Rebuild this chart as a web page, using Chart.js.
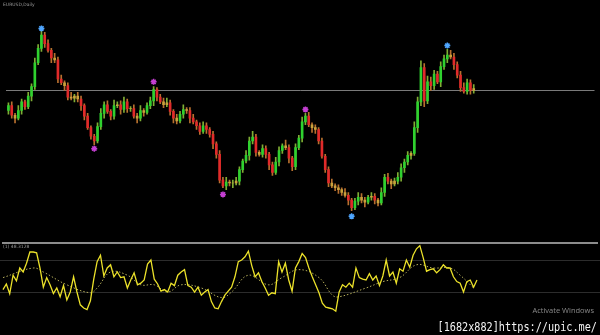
<!DOCTYPE html>
<html>
<head>
<meta charset="utf-8">
<script src="https://cdn.jsdelivr.net/npm/chart.js@4/dist/chart.umd.min.js"></script>
<style>
  html, body { margin:0; padding:0; background:#000; width:600px; height:335px; overflow:hidden; }
  #wrap { position:relative; width:600px; height:335px; background:#000; }
  #main { position:absolute; left:0; top:0; }
  #osc { position:absolute; left:0; top:236px; }
  #sep { position:absolute; left:2px; top:242px; width:596px; height:2px; background:#8c8c8c; z-index:3; }
  .lbl { position:absolute; color:#9a9a9a; font-family:"DejaVu Sans", sans-serif; font-size:4.5px; z-index:4; white-space:nowrap; }
  #act { position:absolute; right:6px; top:305px; color:#8a8a8a; font-family:"Open Sans", sans-serif; font-size:7.5px; z-index:4; }
  #wm { position:absolute; right:3px; top:318px; color:#f4f4f4; font-family:"DejaVu Sans Mono", monospace; font-size:10.2px; line-height:15px; z-index:4; transform:scaleY(1.15); transform-origin:right top; }
</style>
</head>
<body>
<div id="wrap">
  <canvas id="main" width="600" height="240"></canvas>
  <canvas id="osc" width="600" height="80"></canvas>
  <div id="sep"></div>
  <div class="lbl" style="left:3px; top:2px;">EURUSD,Daily</div>
  <div class="lbl" style="left:3px; top:244px;">(1) 48.3128</div>
  <div id="act">Activate Windows</div>
  <div id="wm">[1682x882]https://upic.me/</div>
</div>
<script>
// ---- data ----
const firstOpen = 140;
const closes = [145,135,132,140,149,144,155,165,190,205,219,210,203,195,193,173,169,166,154,153,
  155,152,145,134,122,113,108,123,137,146,139,134,145,146,141,149,142,142,134,132,
  140,138,145,150,162,154,149,146,148,139,132,129,136,141,140,132,128,124,118,124,
  120,115,105,94,67,61,65,64,64,66,78,87,93,108,112,96,94,100,94,83,
  75,86,98,103,101,90,81,101,111,128,134,125,122,120,108,92,78,64,61,59,
  57,54,51,46,38,45,49,46,44,49,50,46,43,54,70,66,63,66,70,80,
  86,93,95,122,149,185,150,170,166,178,170,186,194,198,196,188,177,164,160,169,
  161,163];
const wickHi = [3,4,2,5,3,2,4,3,5,4,6,3,4,2,5,3,4,2,3,5,
  2,4,3,2,3,2,2,4,5,3,4,2,6,3,4,5,3,2,4,3,
  5,2,3,4,3,2,3,4,5,3,2,4,3,5,2,3,4,2,3,4,
  3,2,3,2,4,3,5,2,3,4,3,2,5,4,6,3,2,4,3,2,
  3,5,4,2,6,3,2,4,3,5,3,4,2,3,2,3,2,3,4,2,
  3,2,4,3,2,3,5,4,3,2,4,3,2,5,3,4,2,3,5,4,
  3,4,2,6,5,7,4,6,5,4,3,5,4,6,5,4,3,4,5,4,
  3,4];
const wickLo = [4,3,5,2,4,3,2,5,3,2,3,4,2,5,3,4,2,5,3,2,
  4,3,5,4,2,3,4,2,3,5,2,4,3,2,5,3,4,3,2,5,
  3,4,2,3,5,4,2,3,2,4,5,3,2,4,3,5,2,4,3,2,
  4,3,5,4,3,2,4,3,5,2,4,3,2,5,3,4,2,3,4,5,
  3,2,4,3,2,5,4,3,2,4,3,2,5,4,3,2,3,4,2,3,
  4,3,2,5,3,2,4,3,5,2,3,4,3,2,4,3,5,2,3,4,
  5,3,4,2,5,4,6,3,5,4,2,5,3,4,2,5,3,4,2,3,
  4,3];
const levelLine = 161;
const upperMarkIdx = [10, 133];
const upperMarkVal = [226, 208];
const lowerBlueIdx = [104];
const lowerBlueVal = [29];
const magentaIdx = [26, 44, 65, 90];
const magentaVal = [100, 170, 52, 141];

const osc = [33,40,28,51,44,60,55,66,80,80,79,60,36,48,39,28,35,24,38,20,
  30,49,30,14,10,8,19,46,68,76,50,60,64,49,55,48,49,35,45,54,
  39,41,45,65,70,46,40,31,33,30,41,38,51,55,58,38,36,30,36,26,
  30,33,18,10,9,18,26,31,36,49,68,70,74,81,63,49,54,43,35,26,
  29,28,68,55,66,45,31,60,68,78,73,60,49,39,29,16,11,10,9,6,
  30,39,36,41,36,60,48,46,45,53,45,50,38,50,70,50,55,41,59,56,
  70,61,76,84,88,73,56,58,59,54,58,64,60,60,49,43,41,30,43,45,
  36,45];
const signalIdx = [0,9,12,19,26,28,32,37,41,45,49,53,59,65,68,73,79,83,88,94,98,100,108,113,118,123,128,133,136,140];
const signalVal = [48,60,55,39,29,35,55,51,39,39,30,39,35,23,30,51,39,48,58,48,26,24,35,43,48,64,60,60,51,35];
const oscLevels = [30, 70];

// ---- build datasets ----
const xMin = -0.89, xMax = 177.6;
const opens = closes.map((c, i) => (i === 0 ? firstOpen : closes[i - 1]));
const bodies = closes.map((c, i) => ({ x: i, y: [opens[i], c] }));
const wicks = closes.map((c, i) => ({
  x: i, y: [Math.min(opens[i], c) - wickLo[i], Math.max(opens[i], c) + wickHi[i]]
}));
const bodyColors = closes.map((c, i) => {
  const d = c - opens[i];
  if (Math.abs(d) <= 3) return '#c9a23c';
  return d > 0 ? '#2fd12f' : '#e12a2a';
});
const wickColors = closes.map((c, i) => (c >= opens[i] ? '#7fae34' : '#b8702e'));
const pts = (idx, val) => idx.map((x, k) => ({ x, y: val[k] }));
const hideY = (s) => { s.width = 0; };

new Chart(document.getElementById('main'), {
  data: {
    datasets: [
      { type: 'scatter', data: pts(upperMarkIdx, upperMarkVal).concat(pts(lowerBlueIdx, lowerBlueVal)),
        pointStyle: 'star', pointRadius: 3, borderColor: '#4fa6ff', backgroundColor: '#4fa6ff', borderWidth: 1.5, order: 0 },
      { type: 'scatter', data: pts(magentaIdx, magentaVal),
        pointStyle: 'star', pointRadius: 3, borderColor: '#c43fd2', backgroundColor: '#c43fd2', borderWidth: 1.5, order: 0 },
      { type: 'bar', data: bodies, backgroundColor: bodyColors, borderWidth: 0, barThickness: 2, grouped: false, order: 1 },
      { type: 'bar', data: wicks, backgroundColor: wickColors, borderWidth: 0, barThickness: 1, grouped: false, order: 2 }
    ]
  },
  options: {
    responsive: false, animation: false, devicePixelRatio: 1,
    layout: { padding: 0 },
    plugins: { legend: { display: false }, tooltip: { enabled: false } },
    scales: {
      x: { type: 'linear', min: xMin, max: xMax, offset: false, display: false },
      y: { min: 10, max: 250, position: 'left',
        afterFit: hideY,
        afterBuildTicks: (a) => { a.ticks = [{ value: levelLine }]; },
        ticks: { display: false }, border: { display: false },
        grid: { color: '#7a7a7a', lineWidth: 1, drawTicks: false } }
    }
  }
});

new Chart(document.getElementById('osc'), {
  type: 'line',
  data: {
    datasets: [
      { data: osc.map((v, i) => ({ x: i, y: v })), borderColor: '#ece22a', borderWidth: 1.3,
        pointRadius: 0, tension: 0, fill: false },
      { data: pts(signalIdx, signalVal), borderColor: '#b4ad5a', borderWidth: 1, borderDash: [1.5, 2],
        pointRadius: 0, tension: 0.4, fill: false }
    ]
  },
  options: {
    responsive: false, animation: false, devicePixelRatio: 1,
    layout: { padding: 0 },
    plugins: { legend: { display: false }, tooltip: { enabled: false } },
    scales: {
      x: { type: 'linear', min: xMin, max: xMax, offset: false, display: false },
      y: { min: 0, max: 100, afterFit: hideY,
        afterBuildTicks: (a) => { a.ticks = oscLevels.map(v => ({ value: v })); },
        ticks: { display: false }, border: { display: false },
        grid: { color: '#2c2c2c', lineWidth: 1, drawTicks: false } }
    }
  }
});
</script>
</body>
</html>
